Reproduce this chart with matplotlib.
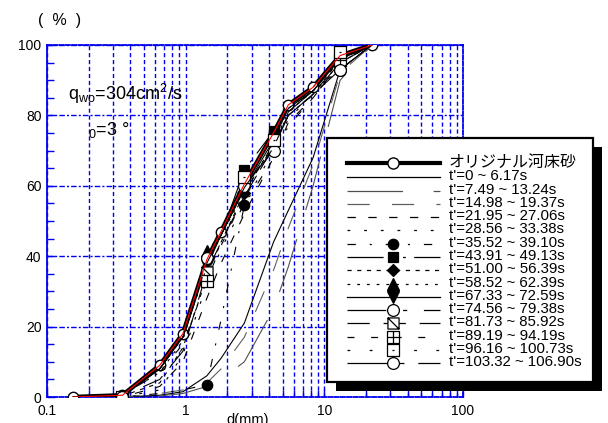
import numpy as np
import matplotlib
matplotlib.use('Agg')
import matplotlib.pyplot as plt
from matplotlib.path import Path
from matplotlib.patches import Rectangle
from matplotlib.ticker import MultipleLocator, FixedLocator, NullFormatter

plt.rcParams['font.family'] = ['Liberation Sans', 'Noto Sans CJK JP', 'DejaVu Sans']
plt.rcParams['mathtext.fontset'] = 'custom'
plt.rcParams['mathtext.rm'] = 'Liberation Sans'
plt.rcParams['mathtext.it'] = 'Liberation Sans'
plt.rcParams['lines.scale_dashes'] = False

# ふるい目 d(mm)
d = [0.154, 0.35, 0.65, 0.955, 1.42, 1.8, 2.65, 4.3, 5.5, 8.3, 13.0, 22.0]
# オリジナル河床砂 通過百分率
orig = [0, 0.5, 9, 18, 39, 47, 60.5, 75, 83, 88, 97, 100]

orig_label = 'オリジナル河床砂'
labels = ["t'=0 ~ 6.17s", "t'=7.49 ~ 13.24s", "t'=14.98 ~ 19.37s",
          "t'=21.95 ~ 27.06s", "t'=28.56 ~ 33.38s", "t'=35.52 ~ 39.10s",
          "t'=43.91 ~ 49.13s", "t'=51.00 ~ 56.39s", "t'=58.52 ~ 62.39s",
          "t'=67.33 ~ 72.59s", "t'=74.56 ~ 79.38s", "t'=81.73 ~ 85.92s",
          "t'=89.19 ~ 94.19s", "t'=96.16 ~ 100.73s", "t'=103.32 ~ 106.90s"]

s00 = [0, 0, 0.5, 1.5, 6, 11, 21, 44, 53, 68, 93, 100]
s01 = [0, 0, 0.3, 1, 3, 5, 10, 25, 37, 60, 90, 100]
s02 = [0, 0, 1, 2, 4, 8, 17, 36, 48, 66, 92, 100]
s03 = [0, 0, 3, 10, 28, 38, 52, 68, 78, 85, 95, 100]
s04 = [0, 0, 2, 12, 32, 42, 55, 70, 79, 86, 95, 100]
s05 = [0, 0, 1, 2, 3.5, 22, 54.5, 68, 77, 85, 95, 100]
s06 = [0, 0.5, 8, 17, 37, 46, 64.5, 75.5, 82, 87, 96, 100]
s07 = [0, 0.3, 4, 14, 34, 44, 58, 72, 80, 86, 96, 100]
s08 = [0, 0.5, 7, 16, 41.5, 46, 58, 72, 81, 87, 96, 100]
s09 = [0, 0.5, 8, 17, 38, 46, 59, 73, 82, 87, 96, 100]
s10 = [0, 0.5, 8, 17, 39.5, 46, 60, 70, 81, 87, 93, 100]
s11 = [0, 0.3, 5, 13, 35.5, 44, 57, 71, 80, 86, 95, 100]
s12 = [0, 0.5, 7, 15, 33, 43, 57, 71, 80, 86, 95.7, 100]
s13 = [0, 0, 8, 17, 37, 46, 62.5, 73, 82, 88, 98, 100]
s14 = [0, 0, 8, 17, 38, 46, 59.5, 71, 80, 86, 93, 100]
series = [s00, s01, s02, s03, s04, s05, s06, s07, s08, s09, s10, s11, s12, s13, s14]

# マーカーを付ける点
marks = [[], [], [], [], [], [4, 6], [6, 7], [6], [4], [4],
         [4, 6, 7, 10], [4], [4, 10], [1, 6, 7, 10], [1, 10]]

# 自作マーカー
M, L, C = Path.MOVETO, Path.LINETO, Path.CLOSEPOLY
sq = [(-1, -1), (1, -1), (1, 1), (-1, 1), (-1, -1)]
sqc = [M, L, L, L, C]
m_diag = Path(sq + [(-1, 1), (1, -1)], sqc + [M, L])
m_grid = Path(sq + [(0, -1), (0, 1), (-1, 0), (1, 0)], sqc + [M, L, M, L])
m_dot = Path(sq + [(-0.15, 0), (0.15, 0)], sqc + [M, L])

styles = [
    dict(color='k', ls='-'),
    dict(color='#505050', ls=(0, (40, 22))),
    dict(color='#606060', ls=(0, (16, 16))),
    dict(color='k', ls=(0, (6, 9))),
    dict(color='k', ls=(0, (2, 10))),
    dict(color='k', ls=(0, (6, 10, 1.5, 10)), marker='o', mfc='k', ms=7.5),
    dict(color='k', ls=(0, (26, 6, 2, 6, 2, 6)), marker='s', mfc='k', ms=7.5),
    dict(color='k', ls=(0, (3, 4)), marker='D', mfc='k', ms=6.5),
    dict(color='k', ls=(0, (2, 5)), marker='^', mfc='k', ms=8),
    dict(color='k', ls='-', marker='v', mfc='k', ms=8),
    dict(color='k', ls=(0, (28, 12, 3, 12)), marker='o', mfc='w', ms=8.5),
    dict(color='k', ls=(0, (16, 10)), marker=m_diag, mfc='w', ms=8),
    dict(color='k', ls=(0, (5, 12)), marker=m_grid, mfc='w', ms=8),
    dict(color='k', ls=(0, (2, 14)), marker=m_dot, mfc='w', ms=8),
    dict(color='k', ls=(0, (30, 6, 5, 10)), marker='o', mfc='w', ms=8.5),
]

fig = plt.figure(figsize=(6.08, 4.23), dpi=100)
ax = fig.add_axes([47/608, 26/423, 416/608, 352/423])

blue = '#0000ee'

ax.plot(d, orig, color='k', lw=3.2, marker='o', ms=7.5, mfc='w', mec='k', mew=1,
        zorder=3, solid_joinstyle='round')
for s, st, mk in zip(series, styles, marks):
    kw = {k: v for k, v in st.items() if k != 'marker'}
    ax.plot(d, s, lw=0.8, mec='k', mew=0.9, markevery=mk if mk else None,
            zorder=4, marker=st.get('marker', 'None') if mk else 'None', **kw)
ax.plot(d, orig, color='red', lw=0.8, zorder=4.5)

ax.set_xscale('log')
ax.set_xlim(0.1, 100)
ax.set_ylim(0, 100)
ax.xaxis.set_major_locator(FixedLocator([0.1, 1, 10, 100]))
ax.set_xticklabels(['0.1', '1', '10', '100'])
ax.xaxis.set_minor_locator(FixedLocator(
    [k * 10.0**e for e in (-1, 0, 1) for k in range(2, 10)]))
ax.xaxis.set_minor_formatter(NullFormatter())
ax.yaxis.set_major_locator(MultipleLocator(20))
ax.yaxis.set_minor_locator(MultipleLocator(5))

ax.grid(True, axis='x', which='both', color=blue, lw=1.0, ls=(0, (3, 2)))
ax.grid(True, axis='y', which='major', color=blue, lw=1.0, ls=(0, (4, 1.5, 1.5, 1.5)))
ax.tick_params(which='both', direction='in', color=blue, labelsize=10, width=1)
ax.tick_params(which='major', length=6)
ax.tick_params(which='minor', length=5)
ax.tick_params(axis='x', pad=5)
ax.tick_params(axis='y', pad=4)
for side, sp in ax.spines.items():
    sp.set_color(blue)
    sp.set_linewidth(1.3)
    if side != 'left':
        sp.set_linestyle((0, (3, 1.5)))

ax.text(0.05, 0.844, r'q$_{\mathregular{wo}}$=304cm$^{\mathregular{2}}$/s',
        transform=ax.transAxes, fontsize=13, va='baseline')
ax.text(0.099, 0.744, r'$_{\mathregular{0}}$=3 °',
        transform=ax.transAxes, fontsize=13, va='baseline')

fig.text(38/608, 1 - 20/423, '(  %  )', fontsize=11.5, va='center', ha='left')
fig.text(248/608, 1 - 413/423, 'd(mm)', fontsize=10.5, va='top', ha='center')

# 凡例
lax = fig.add_axes([0, 0, 1, 1], zorder=5)
lax.set_xlim(0, 608)
lax.set_ylim(423, 0)
lax.axis('off')
lax.add_patch(Rectangle((336, 147), 266, 244, fc='k', ec='none'))
lax.add_patch(Rectangle((327, 138), 266, 244, fc='w', ec='k', lw=1.6))

rows = [163.5] + [177.3 + 13.29 * i for i in range(15)]
lax.plot([347, 440], [rows[0], rows[0]], color='k', lw=3)
lax.plot([393], [rows[0]], 'o', ms=8, mfc='w', mec='k', mew=1)
lax.text(449, rows[0] + 3, orig_label, fontsize=11.5, va='baseline')
for y, st, lab in zip(rows[1:], styles, labels):
    kw = {k: v for k, v in st.items() if k not in ('marker', 'mfc', 'ms')}
    lax.plot([347, 440], [y, y], lw=0.9, **kw)
    if 'marker' in st:
        lax.plot([393], [y], ls='None', marker=st['marker'], ms=st['ms'],
                 mfc=st['mfc'], mec='k', mew=0.9)
    lax.text(449, y + 3, lab, fontsize=10.8, va='baseline')

fig.savefig('out.png', dpi=100)
